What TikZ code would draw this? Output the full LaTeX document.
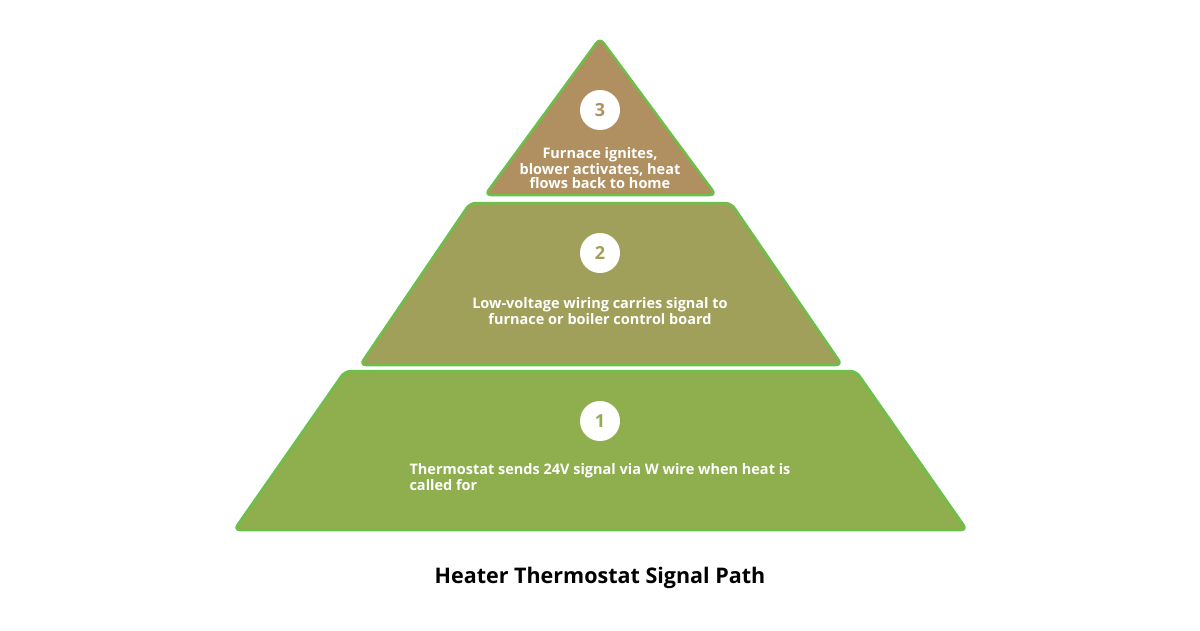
\documentclass[tikz,border=0pt]{standalone}
\usepackage{fontspec}
\setmainfont{Open Sans}
\definecolor{cTop}{HTML}{B09060}
\definecolor{cMid}{HTML}{A0A05A}
\definecolor{cBot}{HTML}{8FAE4E}
\definecolor{edge}{HTML}{6CC04A}
\begin{document}
\begin{tikzpicture}[x=1pt,y=-1pt,
  tier/.style={draw=edge,line width=2.5pt,rounded corners=6pt,line join=round},
  num/.style={circle,fill=white,minimum size=40pt,inner sep=0pt,font=\bfseries\fontsize{18}{18}\selectfont},
  lbl/.style={text=white,font=\bfseries\fontsize{14.5}{14}\selectfont,align=center}]
\path[fill=white] (0,0) rectangle (1200,630);
\useasboundingbox (0,0) rectangle (1200,630);
\fill[tier,fill=cBot] (234,530) -- (345,371) -- (856,371) -- (967,530) -- cycle;
\fill[tier,fill=cMid] (360,365) -- (470,203) -- (731,203) -- (842,365) -- cycle;
\fill[tier,fill=cTop] (485,195) -- (600,38) -- (716,195) -- cycle;
\node[num,text=cTop] (n3) at (600,110) {3};
\node[num,text=cMid] (n2) at (600,253) {2};
\node[num,text=cBot] (n1) at (600,421) {1};
\node[lbl] (t3) at (600,168) {Furnace ignites,\\blower activates, heat\\flows back to home};
\node[lbl] (t2) at (600,311) {Low-voltage wiring carries signal to\\furnace or boiler control board};
\node[lbl,align=left] (t1) at (600,477) {Thermostat sends 24V signal via W wire when heat is\\called for};
\node[font=\bfseries\fontsize{21.5}{22}\selectfont] (title) at (600,578) {Heater Thermostat Signal Path};
\end{tikzpicture}
\end{document}
